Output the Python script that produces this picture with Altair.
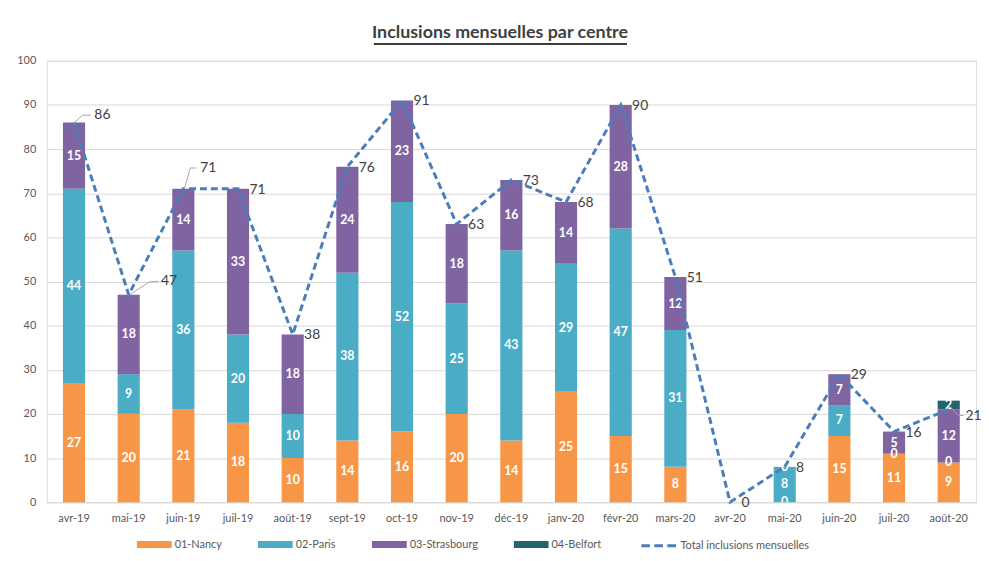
import altair as alt
import pandas as pd

# ---------------- data ----------------
mois = ["avr-19", "mai-19", "juin-19", "juil-19", "août-19", "sept-19", "oct-19",
        "nov-19", "déc-19", "janv-20", "févr-20", "mars-20", "avr-20", "mai-20",
        "juin-20", "juil-20", "août-20"]
nancy = [27, 20, 21, 18, 10, 14, 16, 20, 14, 25, 15, 8, None, 0, 15, 11, 9]
paris = [44, 9, 36, 20, 10, 38, 52, 25, 43, 29, 47, 31, None, 8, 7, 0, 0]
strasbourg = [15, 18, 14, 33, 18, 24, 23, 18, 16, 14, 28, 12, None, 0, 7, 5, 12]
belfort = [None] * 16 + [2]
total = [86, 47, 71, 71, 38, 76, 91, 63, 73, 68, 90, 51, 0, 8, 29, 16, 21]
series = ["01-Nancy", "02-Paris", "03-Strasbourg", "04-Belfort"]
total_name = "Total inclusions mensuelles"
title_text = "Inclusions mensuelles par centre"
bar_colors = ["#f79646", "#4bacc6", "#8064a2", "#23646f"]
line_color = "#4a7ebb"

FONT = "Lato"

rows = []
for idx, (name, vals) in enumerate(zip(series, [nancy, paris, strasbourg, belfort])):
    for m, v in zip(mois, vals):
        if v is not None:
            rows.append({"mois": m, "serie": name, "idx": idx, "valeur": v})
bars_df = pd.DataFrame(rows)
total_df = pd.DataFrame({"mois": mois, "total": total, "serie": total_name})

x_scale = alt.Scale(domain=mois, paddingInner=0.595, paddingOuter=0.2975)
y_scale = alt.Scale(domain=[0, 100], nice=False)

X = alt.X("mois:N", sort=mois, scale=x_scale,
          axis=alt.Axis(title=None, labelAngle=0, ticks=False, domainColor="#d9d9d9",
                        labelPadding=10, labelColor="#595959", labelFontSize=11,
                        labelFont=FONT, grid=False))

legend_common = dict(title=None, orient="none", direction="horizontal",
                     symbolSize=1225, labelFontSize=11, labelColor="#595959",
                     labelFont=FONT, labelOffset=3, columnPadding=36, legendY=470)

bar_legend = alt.Legend(legendX=91, columns=4, symbolType="M-1,-0.2H1V0.2H-1Z",
                        symbolStrokeWidth=0, **legend_common)
line_legend = alt.Legend(legendX=598, columns=1,
                         symbolType="M-1,0H-0.5M-0.25,0H0.25M0.5,0H1",
                         symbolStrokeWidth=3, symbolFillColor="transparent",
                         symbolStrokeColor=line_color, **legend_common)

bars = alt.Chart(bars_df).mark_bar().encode(
    x=X,
    y=alt.Y("valeur:Q", stack="zero", scale=y_scale,
            axis=alt.Axis(title=None, values=list(range(0, 101, 10)), domain=False,
                          ticks=False, labelPadding=11, labelColor="#595959",
                          labelFontSize=11, labelFont=FONT, gridColor="#d9d9d9")),
    color=alt.Color("serie:N", scale=alt.Scale(domain=series, range=bar_colors),
                    legend=bar_legend),
    order=alt.Order("idx:Q", sort="ascending"),
)

bar_text = alt.Chart(bars_df).transform_stack(
    stack="valeur", groupby=["mois"], as_=["y0", "y1"],
    sort=[alt.SortField("idx", order="ascending")],
).transform_calculate(
    mid="(datum.y0 + datum.y1) / 2"
).mark_text(color="white", fontWeight="bold", fontSize=12.5, font=FONT,
            baseline="middle", clip=True).encode(
    x=alt.X("mois:N", sort=mois),
    y=alt.Y("mid:Q"),
    text=alt.Text("valeur:Q"),
)

line = alt.Chart(total_df).mark_line(strokeDash=[7, 4], strokeWidth=3).encode(
    x=alt.X("mois:N", sort=mois),
    y=alt.Y("total:Q"),
    stroke=alt.Stroke("serie:N", scale=alt.Scale(domain=[total_name], range=[line_color]),
                      legend=line_legend),
)

# label placement (dx, dy) and leader lines for the displaced labels
special = {
    "avr-19": {"label": (20.5, -7.6), "leader": [(0, 0, 9, -7.5), (9, -7.5, 17, -7.5)]},
    "mai-19": {"label": (32.5, -13.5), "leader": [(1, 0, 21, -13), (21, -13, 30, -13.5)]},
    "juin-19": {"label": (17, -21), "leader": [(1, 0, 7, -21), (7, -21, 13, -21)]},
    "août-20": {"label": (17, 6.5), "leader": [(0, -4, 10, 6), (10, 6, 15, 6)]},
}

label_style = dict(align="left", baseline="middle", fontSize=14, color="#404040", font=FONT)

total_labels = alt.Chart(total_df).transform_filter(
    alt.FieldOneOfPredicate(field="mois", oneOf=[m for m in mois if m not in special])
).mark_text(dx=11.5, dy=1, **label_style).encode(
    x=alt.X("mois:N", sort=mois), y=alt.Y("total:Q"), text=alt.Text("total:Q"))

layers = [bars, bar_text, line, total_labels]
for m, spec in special.items():
    base = alt.Chart(total_df).transform_filter(alt.datum.mois == m)
    dx, dy = spec["label"]
    layers.append(base.mark_text(dx=dx, dy=dy, **label_style).encode(
        x=alt.X("mois:N", sort=mois), y=alt.Y("total:Q"), text=alt.Text("total:Q")))
    for (x1, y1, x2, y2) in spec["leader"]:
        layers.append(base.mark_rule(color="#a6a6a6", strokeWidth=1,
                                     xOffset=x1, yOffset=y1, x2Offset=x2, y2Offset=y2).encode(
            x=alt.X("mois:N", sort=mois), y=alt.Y("total:Q"),
            x2=alt.X2("mois"), y2=alt.Y2("total")))

# chart title (underlined, as in the reference)
title_mark = alt.Chart(pd.DataFrame({"t": [title_text]})).mark_text(
    fontSize=18, fontWeight="bold", color="#404040", font=FONT,
    align="center", baseline="middle").encode(
    x=alt.value(457), y=alt.value(-28), text="t:N")
underline = alt.Chart(total_df).mark_rule(color="#404040", strokeWidth=1).encode(
    x=alt.value(330), x2=alt.value(585), y=alt.value(-17))
layers += [title_mark, underline]

chart = alt.layer(*layers).resolve_scale(color="independent", stroke="independent").properties(
    width=937, height=445,
    autosize=alt.AutoSizeParams(type="none"),
    padding={"left": 39, "top": 51, "right": 5, "bottom": 48},
).configure_view(stroke=None).configure(background="white")

chart.save("out.html", embed_options={"renderer": "svg", "actions": False})
